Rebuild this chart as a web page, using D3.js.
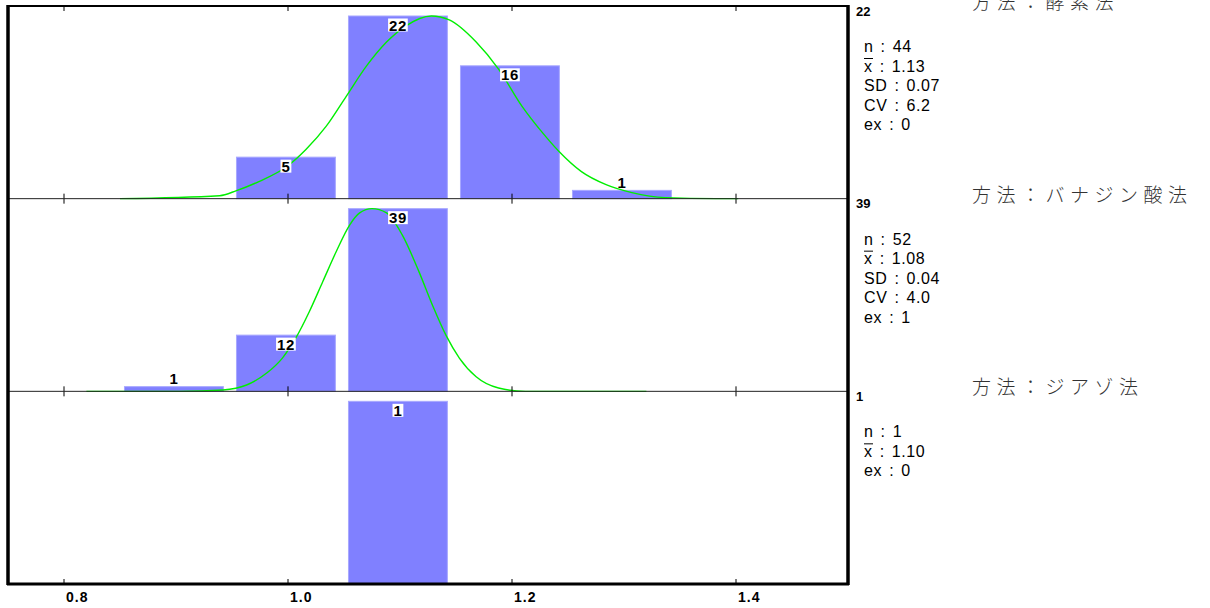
<!DOCTYPE html>
<html>
<head>
<meta charset="utf-8">
<title>方法別ヒストグラム</title>
<script src="https://d3js.org/d3.v7.min.js"></script>
<style>
  body { margin: 0; background: #fff; }
  svg { display: block; }
</style>
</head>
<body>
<div id="chart"></div>
<script>
// 階級の中心値と目盛
const binCenters = [0.9, 1.0, 1.1, 1.2, 1.3];
const xTicks = [0.8, 1.0, 1.2, 1.4];

// 方法名
const methodNames = ["方法：酵素法", "方法：バナジン酸法", "方法：ジアゾ法"];

// 度数
const countsEnzyme = [0, 5, 22, 16, 1];
const countsVanadate = [1, 12, 39, 0, 0];
const countsDiazo = [0, 0, 1, 0, 0];

// 各パネルの縦軸最大値
const yMaxValues = [22, 39, 1];

// 統計値
const statsEnzyme = [["n", "44"], ["x", "1.13"], ["SD", "0.07"], ["CV", "6.2"], ["ex", "0"]];
const statsVanadate = [["n", "52"], ["x", "1.08"], ["SD", "0.04"], ["CV", "4.0"], ["ex", "1"]];
const statsDiazo = [["n", "1"], ["x", "1.10"], ["ex", "0"]];

// 正規曲線（図から読み取った点: [x, 度数]）
const curveEnzyme = [
  [0.85, 0], [0.939, 0.36], [0.954, 0.97], [0.974, 2.06], [0.999, 3.87],
  [1.016, 5.92], [1.034, 8.7], [1.052, 12.33], [1.07, 15.96], [1.088, 18.86],
  [1.105, 20.79], [1.128, 22.0], [1.144, 21.52], [1.168, 18.86], [1.188, 15.6],
  [1.209, 11.12], [1.227, 7.98], [1.242, 5.68], [1.262, 3.26], [1.284, 1.69],
  [1.307, 0.73], [1.337, 0.12], [1.382, 0], [1.402, 0]
];
const curveVanadate = [
  [0.82, 0], [0.903, 0], [0.942, 0.3], [0.963, 1.35], [0.981, 3.9],
  [0.995, 7.1], [1.007, 11.4], [1.019, 17.0], [1.031, 23.4], [1.043, 29.8],
  [1.055, 35.5], [1.064, 38.1], [1.075, 39], [1.088, 38.1], [1.102, 33.4],
  [1.117, 25.5], [1.129, 18.4], [1.141, 12.0], [1.153, 7.1], [1.168, 3.1],
  [1.188, 0.7], [1.212, 0], [1.242, 0], [1.32, 0]
];

const panels = [
  { name: methodNames[0], counts: countsEnzyme, yMax: yMaxValues[0], stats: statsEnzyme, curve: curveEnzyme },
  { name: methodNames[1], counts: countsVanadate, yMax: yMaxValues[1], stats: statsVanadate, curve: curveVanadate },
  { name: methodNames[2], counts: countsDiazo, yMax: yMaxValues[2], stats: statsDiazo, curve: null }
];

const width = 1210, height = 608;
const plotLeft = 8, plotRight = 848, plotTop = 6, plotBottom = 584;
const panelH = (plotBottom - plotTop) / panels.length;

const svg = d3.select("#chart").append("svg")
  .attr("width", width)
  .attr("height", height);

const x = d3.scaleLinear().domain([0.75, 1.5]).range([plotLeft, plotRight]);

const latin = "'Liberation Sans', Arial, Helvetica, sans-serif";

panels.forEach((p, i) => {
  const top = plotTop + i * panelH;
  const bottom = top + panelH;
  const y = d3.scaleLinear().domain([0, p.yMax]).range([bottom, top + 10]);
  const g = svg.append("g");

  // 棒
  const bins = binCenters.map((c, k) => ({ c, v: p.counts[k] })).filter(d => d.v > 0);
  g.selectAll("rect.bar")
    .data(bins)
    .enter()
    .append("rect")
    .attr("class", "bar")
    .attr("x", d => x(d.c - 0.046))
    .attr("width", d => x(d.c + 0.0423) - x(d.c - 0.046))
    .attr("y", d => y(d.v))
    .attr("height", d => bottom - y(d.v))
    .attr("fill", "#8080ff")
    .attr("stroke", "#a8a8ff")
    .attr("stroke-width", 1);

  // 正規曲線
  if (p.curve) {
    const line = d3.line()
      .x(d => x(d[0]))
      .y(d => y(d[1]))
      .curve(d3.curveMonotoneX);
    g.append("path")
      .datum(p.curve)
      .attr("d", line)
      .attr("fill", "none")
      .attr("stroke", "#00ee00")
      .attr("stroke-width", 1.4);
  }

  // 度数ラベル
  bins.forEach(d => {
    const cx = (x(d.c - 0.046) + x(d.c + 0.0423)) / 2;
    const tall = bottom - y(d.v) > 20;
    const cy = tall ? y(d.v) + 9 : y(d.v) - 8;
    const lg = g.append("g");
    const t = lg.append("text")
      .attr("x", cx)
      .attr("y", cy + 5.5)
      .attr("text-anchor", "middle")
      .attr("font-family", latin)
      .attr("font-weight", "bold")
      .attr("font-size", 15)
      .attr("letter-spacing", 0.5)
      .attr("fill", "#000")
      .text(d.v);
    if (tall) {
      const bb = t.node().getBBox();
      lg.insert("rect", "text")
        .attr("x", bb.x - 1)
        .attr("y", cy - 6.5)
        .attr("width", bb.width + 2)
        .attr("height", 13)
        .attr("fill", "#fff");
    }
  });

  // 目盛（上下・内向き）
  xTicks.forEach(v => {
    g.append("line")
      .attr("x1", x(v)).attr("x2", x(v))
      .attr("y1", top).attr("y2", top + 5)
      .attr("stroke", "#000");
    g.append("line")
      .attr("x1", x(v)).attr("x2", x(v))
      .attr("y1", bottom - 5).attr("y2", bottom)
      .attr("stroke", "#000");
  });

  // 縦軸最大値
  g.append("text")
    .attr("x", 856)
    .attr("y", top + 9.5)
    .attr("font-family", latin)
    .attr("font-weight", "bold")
    .attr("font-size", 13)
    .text(p.yMax);

  // 方法名
  g.append("text")
    .attr("x", 972)
    .attr("y", top + 3)
    .attr("font-family", "'Noto Sans CJK JP', sans-serif")
    .attr("font-weight", 300)
    .attr("font-size", 19)
    .attr("letter-spacing", 5.5)
    .attr("fill", "#333")
    .text(p.name);

  // 統計値
  p.stats.forEach((s, k) => {
    const by = top + 46 + k * 19.5;
    g.append("text")
      .attr("x", 864)
      .attr("y", by)
      .attr("font-family", latin)
      .attr("font-size", 16)
      .attr("letter-spacing", 0.6)
      .attr("word-spacing", 2)
      .attr("fill", "#000")
      .text(`${s[0]} : ${s[1]}`);
    if (s[0] === "x") {
      g.append("line")
        .attr("x1", 864).attr("x2", 873)
        .attr("y1", by - 13).attr("y2", by - 13)
        .attr("stroke", "#000")
        .attr("stroke-width", 1);
    }
  });

  // パネル境界線
  if (i > 0) {
    svg.append("line")
      .attr("x1", plotLeft).attr("x2", plotRight)
      .attr("y1", top).attr("y2", top)
      .attr("stroke", "#222")
      .attr("stroke-width", 1);
  }
});

// 外枠
svg.append("line").attr("x1", plotLeft - 1).attr("x2", plotRight + 1)
  .attr("y1", plotTop).attr("y2", plotTop)
  .attr("stroke", "#000").attr("stroke-width", 2);
svg.append("line").attr("x1", plotLeft - 1).attr("x2", plotRight + 1)
  .attr("y1", plotBottom).attr("y2", plotBottom)
  .attr("stroke", "#000").attr("stroke-width", 3);
svg.append("line").attr("x1", plotLeft).attr("x2", plotLeft)
  .attr("y1", plotTop - 1).attr("y2", plotBottom + 1)
  .attr("stroke", "#000").attr("stroke-width", 3.5);
svg.append("line").attr("x1", plotRight).attr("x2", plotRight)
  .attr("y1", plotTop - 1).attr("y2", plotBottom + 1)
  .attr("stroke", "#000").attr("stroke-width", 3.5);

// 横軸ラベル
svg.selectAll("text.xlab")
  .data(xTicks)
  .enter()
  .append("text")
  .attr("class", "xlab")
  .attr("x", d => x(d) + 2)
  .attr("y", 602)
  .attr("font-family", latin)
  .attr("font-weight", "bold")
  .attr("font-size", 14)
  .attr("letter-spacing", 1)
  .text(d => d.toFixed(1));
</script>
</body>
</html>
